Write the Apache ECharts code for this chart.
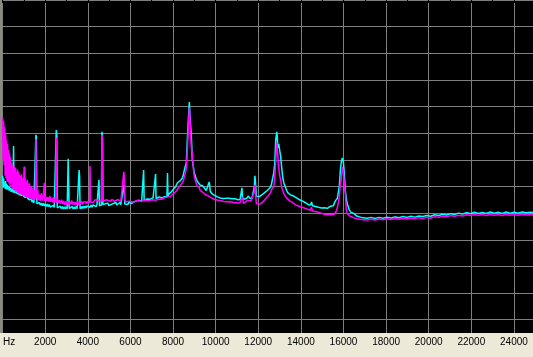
<!DOCTYPE html>
<html>
<head>
<meta charset="utf-8">
<script src="https://cdn.jsdelivr.net/npm/echarts@6.0.0/dist/echarts.min.js"></script>
<style>
  html, body { margin: 0; padding: 0; background: #ECE9D8; overflow: hidden; }
  /* a little wider than the window so the closing grid column falls off-screen */
  #chart { width: 536px; height: 357px; }
</style>
</head>
<body>
<div id="chart"></div>
<script>
// frequency range (Hz) and grid rows (dB)
const freqMax = 24895
const xMajorStep = 2000
const levelMin = -125
const levelMax = 0
const yGridDb = [0, -10, -20, -30, -40, -50, -60, -70, -80, -90, -100, -110, -120]

// channel 1 (cyan): [Hz, dB]
const cyanTrace = [
  [0,-66.0],[23,-70.5],[47,-67.0],[70,-70.1],[93,-68.5],[117,-70.8],[140,-68.0],[163,-71.0],[186,-69.0],[210,-71.2],
  [233,-69.5],[256,-71.0],[280,-70.0],[303,-71.6],[326,-70.2],[350,-71.5],[373,-70.5],[396,-72.0],[420,-70.8],[443,-71.8],
  [466,-71.0],[490,-72.2],[513,-54.8],[536,-72.4],[559,-71.2],[583,-72.3],[606,-71.5],[629,-72.6],[653,-71.6],[676,-72.8],
  [699,-72.0],[722,-73.0],[746,-72.0],[769,-73.1],[793,-72.3],[816,-73.3],[839,-72.5],[862,-73.4],[886,-72.8],[909,-73.6],
  [932,-73.0],[955,-73.8],[979,-73.2],[1002,-74.0],[1026,-62.6],[1049,-74.2],[1072,-73.5],[1096,-74.4],[1119,-73.6],[1142,-74.6],
  [1166,-73.8],[1189,-74.8],[1212,-74.0],[1236,-75.0],[1259,-74.3],[1282,-75.2],[1305,-74.5],[1329,-75.5],[1352,-74.8],[1375,-75.8],
  [1399,-75.0],[1422,-76.0],[1445,-75.2],[1469,-76.2],[1492,-75.5],[1515,-76.4],[1538,-75.8],[1562,-50.6],[1585,-51.5],[1608,-76.5],
  [1632,-75.8],[1678,-76.8],[1725,-76.0],[1772,-77.0],[1818,-76.2],[1865,-77.2],[1911,-76.3],[1958,-77.3],[2005,-76.5],[2051,-77.5],
  [2098,-76.6],[2144,-77.6],[2191,-76.8],[2238,-77.7],[2284,-77.0],[2331,-77.8],[2378,-77.1],[2424,-77.9],[2470,-77.2],[2517,-48.8],
  [2541,-50.5],[2564,-78.0],[2611,-77.3],[2657,-78.2],[2704,-77.4],[2750,-78.3],[2797,-77.5],[2843,-78.4],[2890,-77.6],[2937,-78.4],
  [2983,-77.6],[3030,-78.4],[3054,-77.8],[3077,-59.6],[3100,-59.8],[3124,-78.3],[3170,-77.6],[3217,-78.5],[3264,-77.5],[3310,-78.4],
  [3357,-77.6],[3403,-78.4],[3450,-77.5],[3496,-78.3],[3543,-77.6],[3590,-63.8],[3613,-66.5],[3636,-78.4],[3683,-77.5],[3730,-78.3],
  [3776,-77.4],[3823,-78.2],[3870,-77.3],[3916,-78.1],[3963,-77.3],[4010,-78.0],[4056,-77.2],[4103,-77.8],[4150,-77.0],[4196,-77.8],
  [4243,-76.9],[4290,-77.6],[4336,-76.8],[4383,-77.6],[4429,-76.8],[4476,-77.4],[4522,-67.5],[4545,-77.3],[4592,-76.6],[4639,-77.0],
  [4662,-49.5],[4685,-50.5],[4709,-76.8],[4755,-76.2],[4802,-77.0],[4848,-76.4],[4895,-76.9],[4942,-76.3],[4988,-77.2],[5035,-76.5],
  [5082,-76.8],[5128,-76.2],[5175,-77.0],[5221,-76.3],[5268,-76.6],[5315,-76.0],[5361,-76.9],[5408,-76.2],[5454,-76.5],[5501,-76.0],
  [5548,-76.8],[5594,-76.1],[5641,-76.2],[5688,-69.4],[5711,-72.0],[5734,-76.6],[5781,-76.0],[5827,-76.4],[5874,-76.8],[5921,-75.9],
  [5967,-76.0],[6014,-75.6],[6060,-76.4],[6107,-75.7],[6154,-75.8],[6200,-75.4],[6247,-76.1],[6293,-75.4],[6340,-75.7],[6387,-75.2],
  [6434,-75.9],[6480,-75.2],[6527,-75.5],[6573,-75.0],[6597,-75.6],[6620,-63.8],[6643,-75.4],[6690,-74.8],[6736,-75.2],[6783,-74.7],
  [6830,-75.4],[6876,-74.6],[6923,-74.8],[6970,-74.4],[7016,-75.0],[7063,-74.3],[7110,-74.6],[7156,-74.8],[7180,-65.3],[7203,-74.5],
  [7250,-74.0],[7296,-74.6],[7343,-73.9],[7389,-74.2],[7436,-73.8],[7482,-74.3],[7529,-73.7],[7576,-73.9],[7622,-73.5],[7669,-74.0],
  [7715,-73.8],[7739,-64.9],[7762,-73.6],[7808,-72.8],[7855,-73.0],[7901,-72.2],[7925,-72.0],[7971,-71.5],[8018,-71.0],[8065,-70.8],
  [8111,-70.2],[8158,-69.5],[8205,-68.6],[8251,-69.2],[8298,-69.0],[8345,-67.8],[8391,-67.4],[8438,-66.8],[8485,-65.5],[8531,-63.8],
  [8578,-64.5],[8625,-61.0],[8671,-52.5],[8718,-45.0],[8765,-38.3],[8788,-42.0],[8811,-45.5],[8858,-51.0],[8904,-60.0],[8951,-62.5],
  [8997,-64.9],[9044,-66.0],[9091,-67.4],[9137,-67.0],[9184,-68.6],[9231,-68.3],[9277,-69.5],[9324,-69.8],[9371,-69.6],[9417,-70.1],
  [9464,-70.5],[9510,-71.2],[9557,-71.5],[9603,-71.0],[9650,-71.3],[9697,-68.3],[9720,-69.5],[9744,-71.8],[9790,-72.3],[9837,-72.8],
  [9884,-73.0],[9930,-73.2],[9977,-73.5],[10023,-73.9],[10070,-73.6],[10116,-74.0],[10163,-73.7],[10210,-74.3],[10256,-73.9],[10303,-74.2],
  [10350,-74.5],[10396,-74.6],[10443,-74.2],[10489,-74.4],[10536,-74.8],[10582,-74.6],[10629,-74.4],[10676,-74.8],[10722,-74.5],[10769,-74.6],
  [10815,-74.9],[10862,-75.0],[10909,-74.6],[10955,-74.8],[11002,-75.1],[11048,-75.0],[11095,-74.7],[11142,-74.9],[11188,-75.2],[11212,-75.0],
  [11235,-70.5],[11258,-74.0],[11305,-74.8],[11351,-74.4],[11398,-74.2],[11445,-74.5],[11491,-74.0],[11538,-73.6],[11562,-73.9],[11608,-74.4],
  [11655,-74.2],[11702,-74.6],[11772,-74.5],[11818,-70.0],[11841,-66.0],[11864,-68.0],[11911,-73.8],[11958,-74.2],[12004,-73.9],[12051,-73.8],
  [12097,-73.6],[12144,-73.2],[12190,-73.0],[12237,-72.8],[12284,-72.4],[12330,-72.0],[12377,-71.8],[12424,-71.5],[12470,-71.3],[12517,-70.8],
  [12563,-70.4],[12610,-69.5],[12633,-68.6],[12680,-66.8],[12727,-64.9],[12773,-61.5],[12820,-52.5],[12867,-49.5],[12890,-51.0],[12913,-55.5],
  [12960,-54.0],[13007,-56.5],[13054,-58.9],[13100,-63.0],[13147,-66.5],[13194,-68.5],[13240,-69.5],[13287,-70.1],[13334,-71.5],[13380,-72.3],
  [13427,-72.2],[13473,-72.8],[13520,-73.2],[13567,-73.5],[13613,-73.3],[13660,-73.6],[13706,-73.8],[13753,-73.9],[13800,-74.3],[13846,-74.6],
  [13893,-74.8],[13939,-75.0],[13986,-75.2],[14032,-75.4],[14079,-75.5],[14126,-75.8],[14172,-76.0],[14219,-76.1],[14266,-76.3],[14312,-76.5],
  [14359,-76.9],[14406,-76.7],[14453,-77.0],[14499,-75.8],[14522,-76.5],[14546,-77.2],[14592,-77.0],[14639,-77.3],[14686,-77.5],[14732,-77.6],
  [14779,-77.4],[14825,-77.8],[14872,-77.7],[14918,-78.0],[14965,-78.1],[15011,-77.8],[15058,-78.2],[15105,-78.0],[15151,-78.3],[15198,-78.0],
  [15245,-78.2],[15291,-77.8],[15338,-77.6],[15384,-77.4],[15431,-77.8],[15477,-77.6],[15524,-77.2],[15571,-76.5],[15617,-75.4],[15664,-74.8],
  [15710,-74.5],[15758,-73.9],[15804,-70.0],[15851,-64.0],[15897,-60.8],[15944,-59.3],[15991,-60.5],[16037,-65.0],[16084,-71.3],[16130,-74.5],
  [16177,-76.5],[16224,-77.6],[16270,-78.8],[16317,-79.5],[16363,-79.8],[16410,-80.2],[16457,-80.0],[16503,-80.6],[16550,-80.4],[16643,-81.2],
  [16830,-81.6],[16923,-81.2],[17109,-81.9],[17296,-81.6],[17482,-82.0],[17669,-81.6],[17855,-81.9],[18041,-81.5],[18228,-81.8],[18414,-81.4],
  [18601,-81.7],[18787,-81.3],[18974,-81.6],[19160,-81.2],[19347,-81.5],[19533,-81.1],[19720,-81.3],[19906,-80.9],[20093,-81.2],[20279,-80.6],
  [20466,-80.9],[20652,-80.4],[20839,-80.7],[21025,-80.2],[21212,-80.5],[21398,-80.0],[21585,-80.3],[21771,-79.8],[21958,-80.2],[22144,-79.7],
  [22331,-80.1],[22517,-79.8],[22704,-80.1],[22890,-79.6],[23077,-80.0],[23263,-79.7],[23450,-80.1],[23636,-79.6],[23823,-80.0],[24009,-79.7],
  [24196,-80.0],[24382,-79.6],[24569,-79.9],[24755,-79.7],[24895,-79.8]
]

// channel 2 (magenta): [Hz, dB]
const magentaTrace = [
  [0,-44.3],[23,-60.0],[47,-45.5],[70,-62.0],[93,-47.6],[117,-66.0],[140,-50.0],[163,-67.0],[186,-52.5],[210,-68.0],
  [233,-54.0],[256,-68.3],[280,-56.3],[303,-69.0],[326,-57.5],[350,-70.0],[373,-59.0],[396,-68.5],[420,-61.0],[443,-70.5],
  [466,-61.9],[490,-71.0],[513,-64.0],[536,-71.3],[559,-62.5],[583,-71.5],[606,-63.0],[629,-72.0],[653,-64.5],[676,-71.8],
  [699,-63.6],[722,-72.4],[746,-64.5],[769,-72.6],[793,-65.5],[816,-72.8],[839,-66.0],[862,-73.0],[886,-65.4],[909,-73.2],
  [932,-66.8],[955,-73.5],[979,-67.2],[1002,-73.4],[1026,-62.6],[1049,-73.8],[1072,-67.5],[1096,-74.0],[1119,-68.0],[1142,-73.9],
  [1166,-67.5],[1189,-74.2],[1212,-69.0],[1236,-74.3],[1259,-68.8],[1282,-74.5],[1305,-70.0],[1329,-74.6],[1352,-70.1],[1375,-74.8],
  [1399,-70.5],[1422,-75.0],[1445,-71.5],[1469,-74.8],[1492,-71.3],[1515,-75.0],[1538,-72.5],[1562,-52.1],[1585,-74.5],[1608,-72.0],
  [1632,-75.0],[1655,-71.3],[1678,-75.2],[1725,-73.0],[1772,-75.4],[1818,-72.5],[1865,-75.3],[1911,-73.5],[1958,-68.6],[1981,-75.5],
  [2028,-73.8],[2075,-75.6],[2121,-74.0],[2168,-75.8],[2215,-73.5],[2261,-75.8],[2308,-74.2],[2354,-76.0],[2401,-74.0],[2447,-76.1],
  [2494,-75.0],[2517,-51.8],[2541,-76.0],[2587,-74.8],[2634,-76.3],[2681,-75.2],[2727,-76.5],[2774,-75.0],[2820,-76.6],[2867,-75.4],
  [2913,-76.9],[2960,-75.6],[3007,-76.8],[3054,-75.5],[3100,-76.9],[3147,-75.8],[3194,-76.6],[3241,-75.2],[3287,-76.8],[3334,-75.8],
  [3380,-76.9],[3427,-75.9],[3474,-76.8],[3520,-75.5],[3567,-76.9],[3613,-75.8],[3660,-76.7],[3706,-75.5],[3753,-76.8],[3799,-75.8],
  [3846,-76.5],[3893,-75.7],[3939,-76.6],[3986,-75.5],[4033,-76.4],[4079,-75.5],[4103,-62.3],[4126,-75.8],[4172,-76.2],[4219,-75.4],
  [4266,-76.0],[4312,-75.2],[4359,-75.8],[4406,-75.0],[4452,-75.7],[4499,-75.2],[4545,-75.6],[4592,-75.0],[4639,-75.5],[4662,-50.6],
  [4685,-52.0],[4709,-75.6],[4755,-75.2],[4802,-75.8],[4848,-75.0],[4895,-75.7],[4942,-75.2],[4988,-75.8],[5035,-75.1],[5082,-75.6],
  [5128,-74.8],[5175,-75.5],[5221,-74.9],[5268,-75.6],[5315,-75.0],[5361,-75.5],[5408,-74.8],[5454,-75.5],[5501,-75.0],[5548,-75.6],
  [5594,-74.9],[5641,-75.3],[5688,-64.5],[5711,-66.0],[5734,-75.0],[5781,-75.8],[5827,-75.2],[5874,-75.6],[5921,-75.5],[5967,-75.8],
  [6014,-75.4],[6060,-75.7],[6107,-75.6],[6154,-75.8],[6200,-75.5],[6247,-75.8],[6293,-75.3],[6340,-75.6],[6387,-75.4],[6434,-75.8],
  [6480,-75.4],[6527,-75.6],[6573,-75.3],[6620,-75.5],[6667,-75.2],[6713,-75.5],[6760,-75.1],[6806,-75.4],[6853,-75.0],[6900,-75.3],
  [6946,-75.0],[6993,-75.4],[7040,-75.0],[7086,-75.3],[7133,-74.8],[7180,-75.2],[7226,-74.8],[7273,-75.0],[7320,-74.7],[7366,-75.0],
  [7413,-74.5],[7459,-74.8],[7506,-74.3],[7552,-74.6],[7599,-74.2],[7646,-74.5],[7692,-74.3],[7739,-74.0],[7785,-74.0],[7832,-73.5],
  [7878,-73.8],[7925,-73.9],[7971,-73.0],[8018,-73.2],[8065,-72.5],[8111,-72.0],[8158,-71.6],[8205,-71.3],[8251,-70.5],[8298,-70.2],
  [8345,-69.5],[8391,-69.0],[8438,-68.6],[8485,-67.8],[8531,-66.4],[8578,-65.0],[8625,-63.0],[8671,-56.5],[8718,-47.5],[8765,-40.5],
  [8788,-42.5],[8811,-49.0],[8858,-55.5],[8904,-57.4],[8951,-63.0],[8997,-66.4],[9044,-67.5],[9091,-69.0],[9137,-69.8],[9184,-70.5],
  [9231,-70.5],[9277,-71.5],[9324,-71.6],[9371,-72.0],[9417,-72.6],[9464,-72.0],[9510,-73.0],[9557,-73.5],[9603,-73.3],[9650,-73.5],
  [9697,-73.1],[9744,-74.0],[9790,-74.3],[9837,-74.5],[9930,-74.8],[10023,-74.6],[10116,-75.2],[10210,-75.3],[10303,-75.4],[10396,-75.6],
  [10489,-75.5],[10582,-75.8],[10676,-75.7],[10769,-75.8],[10862,-76.0],[10955,-75.8],[11048,-76.2],[11142,-76.0],[11235,-76.5],[11258,-74.0],
  [11305,-76.4],[11398,-75.8],[11491,-75.2],[11562,-75.0],[11655,-75.5],[11748,-75.8],[11818,-72.0],[11841,-69.4],[11864,-72.0],[11911,-76.5],
  [12004,-76.9],[12097,-76.6],[12190,-76.0],[12284,-75.2],[12377,-74.6],[12470,-73.5],[12563,-72.5],[12633,-71.0],[12727,-70.1],[12773,-67.0],
  [12820,-60.0],[12867,-53.6],[12913,-58.0],[12960,-63.0],[13007,-66.0],[13054,-67.5],[13100,-70.5],[13147,-71.5],[13194,-72.5],[13287,-73.9],
  [13380,-74.6],[13473,-75.4],[13567,-75.8],[13660,-76.4],[13753,-76.9],[13846,-77.2],[13939,-77.5],[14032,-77.8],[14126,-78.0],[14219,-78.4],
  [14312,-78.5],[14359,-78.8],[14453,-78.9],[14499,-77.8],[14546,-79.2],[14639,-79.4],[14732,-79.5],[14825,-79.7],[14918,-79.9],[15011,-80.2],
  [15105,-80.4],[15198,-80.3],[15291,-80.6],[15384,-80.5],[15477,-80.6],[15524,-80.6],[15571,-80.4],[15617,-80.0],[15664,-79.2],[15710,-78.0],
  [15758,-76.1],[15804,-74.0],[15851,-69.0],[15897,-67.5],[15944,-62.6],[15991,-64.5],[16037,-68.5],[16084,-72.4],[16130,-78.8],[16177,-80.2],
  [16224,-80.6],[16317,-81.2],[16410,-81.5],[16503,-81.8],[16550,-81.4],[16643,-82.1],[16830,-82.4],[16923,-82.0],[17109,-82.6],[17296,-82.3],
  [17482,-82.6],[17669,-82.2],[17855,-82.5],[18041,-82.1],[18228,-82.4],[18414,-82.0],[18601,-82.3],[18787,-81.9],[18974,-82.2],[19160,-81.8],
  [19347,-82.1],[19533,-81.7],[19720,-82.0],[19906,-81.6],[20093,-81.9],[20279,-81.3],[20466,-81.6],[20652,-81.1],[20839,-81.4],[21025,-80.9],
  [21212,-81.2],[21398,-80.8],[21585,-81.1],[21771,-80.6],[21958,-80.9],[22144,-80.5],[22331,-80.8],[22517,-80.5],[22704,-80.9],[22890,-80.4],
  [23077,-80.8],[23263,-80.5],[23450,-80.9],[23636,-80.4],[23823,-80.8],[24009,-80.5],[24196,-80.8],[24382,-80.4],[24569,-80.7],[24755,-80.5],
  [24895,-80.6]
]

const chart = echarts.init(document.getElementById('chart'))

chart.setOption({
  animation: false,
  backgroundColor: '#ECE9D8',
  grid: {
    left: 2, right: 0, top: 0, bottom: 24,
    show: true, backgroundColor: '#000', borderWidth: 0
  },
  xAxis: {
    type: 'value',
    min: 0,
    max: freqMax,
    interval: xMajorStep,
    axisLine: { show: false },
    axisTick: { show: true, length: 3, lineStyle: { color: '#000' } },
    minorTick: { show: true, splitNumber: 2, length: 2, lineStyle: { color: '#000' } },
    splitLine: { show: true, lineStyle: { color: '#7f7f7f', width: 1 } },
    axisLabel: {
      margin: 4,
      color: '#000',
      fontSize: 10,
      fontFamily: 'Liberation Sans',
      formatter: v => {
        if (v === 0) return '{hz|Hz}'
        return v % xMajorStep === 0 ? String(v) : ''
      },
      rich: {
        hz: { padding: [0, 0, 0, 13], fontSize: 10, fontFamily: 'Liberation Sans', color: '#000' }
      }
    }
  },
  yAxis: {
    type: 'value',
    min: levelMin,
    max: levelMax,
    axisLine: { show: false },
    axisLabel: { show: false },
    axisTick: { show: false, customValues: yGridDb },
    splitLine: { show: true, lineStyle: { color: '#7f7f7f', width: 1 } }
  },
  graphic: [
    // left frame edge
    { type: 'rect', left: 0, top: 0, shape: { width: 2, height: 333 }, style: { fill: '#8C8A7E' }, z: 100 }
  ],
  series: [
    {
      name: 'ch1',
      type: 'line',
      data: cyanTrace,
      symbol: 'none',
      lineStyle: { color: '#00FFFF', width: 1.5 },
      z: 3
    },
    {
      name: 'ch2',
      type: 'line',
      data: magentaTrace,
      symbol: 'none',
      lineStyle: { color: '#FF00FF', width: 1.5 },
      z: 4
    }
  ]
})
</script>
</body>
</html>
